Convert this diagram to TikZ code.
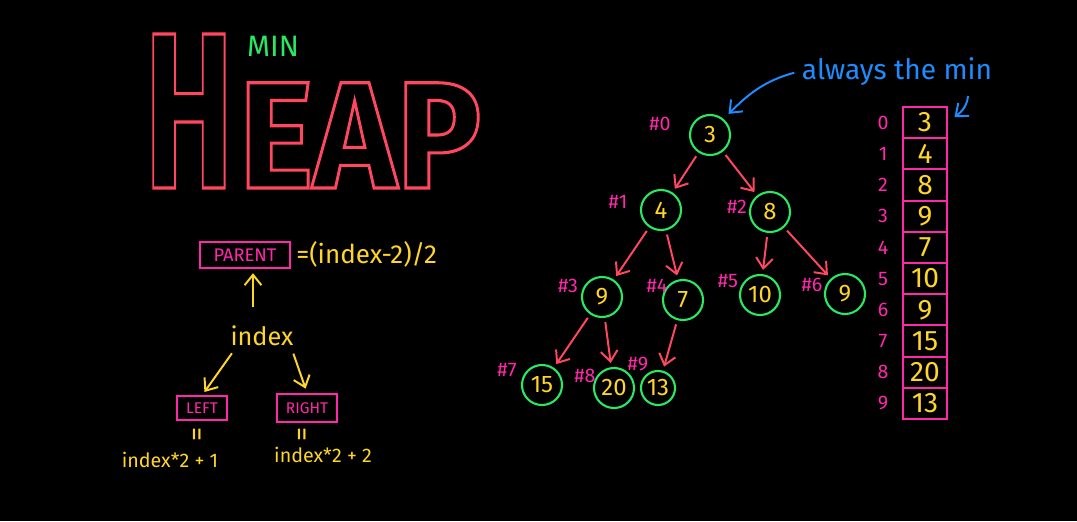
\documentclass[tikz,border=0pt]{standalone}
\usepackage{fontspec}
\setmainfont{Fira Sans}
\usetikzlibrary{arrows.meta}
\definecolor{heapred}{RGB}{255,72,96}
\definecolor{heapmag}{RGB}{255,40,170}
\definecolor{heapgold}{RGB}{255,214,40}
\definecolor{heapgreen}{RGB}{40,232,100}
\definecolor{heapblue}{RGB}{30,140,255}
\newcommand{\fsz}[1]{\fontsize{#1}{#1}\selectfont}
\newcommand{\hollow}[1]{\special{pdf:literal direct 1 Tr}#1\special{pdf:literal direct 0 Tr}}

\begin{document}
\begin{tikzpicture}[x=0.025cm,y=-0.025cm,
      hn/.style={circle,draw=heapgreen,line width=1.5pt,minimum size=1cm,inner sep=0pt,text=heapgold,font=\fsz{17}},
      tag/.style={text=heapmag,font=\fsz{14}},
      tarr/.style={heapred,line width=1.4pt,-{Straight Barb[length=2.6mm,width=4.2mm]},shorten <=3pt,shorten >=3pt},
      yarr/.style={heapgold,line width=1.4pt,-{Straight Barb[length=2.6mm,width=4.2mm]},shorten <=2pt,shorten >=3pt},
      barr/.style={heapblue,line width=1.4pt,-{Straight Barb[length=2.6mm,width=4.2mm]}},
      rbox/.style={draw=heapmag,line width=1.4pt,text=heapmag,inner sep=0pt},
      ytxt/.style={text=heapgold},
      cell/.style={draw=heapmag,line width=1.4pt,minimum width=1.1cm,minimum height=0.78cm,inner sep=0pt,text=heapgold,font=\fsz{20}}]
    \fill[black] (0,0) rectangle (1077,521);
    \useasboundingbox (0,0) rectangle (1077,521);
    % title
    \node[anchor=base west,inner sep=0pt,text=heapred,line width=2.2pt,font=\bfseries] (title) at (143,188)
      {\hollow{\scalebox{0.6}[1]{\fsz{158}H}\hspace{4pt}\scalebox{0.93}[1]{\fsz{108}EAP}}};
    \node[text=heapgreen,font=\fsz{21}] (min) at (273,46) {MIN};
    % index formulas
    \node[rbox,minimum width=2.27cm,minimum height=0.65cm,font=\fsz{13}] (parent) at (245,255) {PARENT};
    \node[ytxt,anchor=west,font=\fsz{18.5},inner sep=0pt] (pform) at (296,254) {=(index-2)/2};
    \node[ytxt,font=\fsz{18}] (idx) at (262,336) {index};
    \node[rbox,minimum width=1.25cm,minimum height=0.58cm,font=\fsz{11}] (left) at (202,408) {LEFT};
    \node[rbox,minimum width=1.52cm,minimum height=0.72cm,font=\fsz{11}] (right) at (307,408) {RIGHT};
    \node[ytxt,rotate=90,font=\fsz{20}] (eqL) at (200,434) {=};
    \node[ytxt,rotate=90,font=\fsz{20}] (eqR) at (305,434) {=};
    \node[ytxt,font=\fsz{14}] (lform) at (170,460) {index*2 + 1};
    \node[ytxt,font=\fsz{14}] (rform) at (323,455) {index*2 + 2};
    \draw[yarr] (253,310) -- (parent.south -| 253,310);
    \draw[yarr] (idx.south west) ++(8,0) coordinate (idxl) (idxl) -- (left.north);
    \draw[yarr] (idx.south east) ++(-6,0) coordinate (idxr) (idxr) -- (right.north);
    % tree
    \node[hn] (n0) at (710,135) {3};
    \node[hn] (n1) at (661,210) {4};
    \node[hn] (n2) at (770,212) {8};
    \node[hn] (n3) at (602,297) {9};
    \node[hn] (n4) at (683,300) {7};
    \node[hn] (n5) at (760,295) {10};
    \node[hn] (n6) at (845,294) {9};
    \node[hn] (n7) at (542,385) {15};
    \node[hn] (n8) at (614,388) {20};
    \node[hn,minimum size=0.85cm] (n9) at (658,388) {13};
    \node[tag] (t0) at (660,124) {\#0};
    \node[tag] (t1) at (618,202) {\#1};
    \node[tag] (t2) at (737,207) {\#2};
    \node[tag] (t3) at (568,286) {\#3};
    \node[tag] (t4) at (657,286) {\#4};
    \node[tag] (t5) at (728,281) {\#5};
    \node[tag] (t6) at (812,285) {\#6};
    \node[tag] (t7) at (507,370) {\#7};
    \node[tag] (t8) at (585,376) {\#8};
    \node[tag] (t9) at (638,364) {\#9};
    \draw[tarr] (n0) -- (n1);
    \draw[tarr] (n0) -- (n2);
    \draw[tarr] (n1) -- (n3);
    \draw[tarr] (n1) -- (n4);
    \draw[tarr] (n2) -- (n5);
    \draw[tarr] (n2) -- (n6);
    \draw[tarr] (n3) -- (n7);
    \draw[tarr] (n3) -- (n8);
    \draw[tarr] (n4) -- (n9);
    % array
    \foreach \v [count=\i from 0] in {3,4,8,9,7,10,9,15,20,13} {
      \node[cell] (c\i) at (925,{122.6+31.2*\i}) {\v};
      \node[tag] (k\i) at (883,{122.6+31.2*\i}) {\i};
    }
    % note
    \node[text=heapblue,font=\fsz{20}] (always) at (897,72) {always the min};
    \draw[barr,shorten <=2pt,shorten >=5pt] (always.west) to[out=195,in=45] (n0.50);
    \coordinate (hook) at (968,96);
    \draw[barr,shorten >=6pt] (hook) to[out=-95,in=40] (c0.east);
  \end{tikzpicture}
\end{document}
